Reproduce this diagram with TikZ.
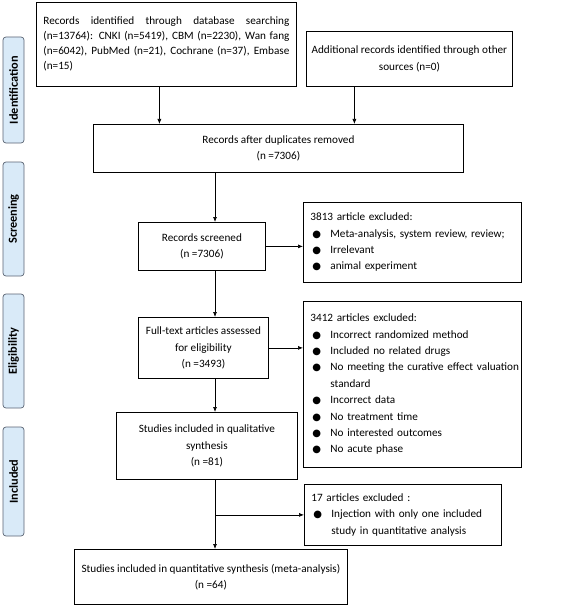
\documentclass[tikz,border=0pt]{standalone}
\usepackage{fontspec}
\setmainfont{Carlito}
\newfontfamily\symfont{DejaVu Sans}
\usetikzlibrary{arrows.meta}
\definecolor{sideblue}{RGB}{217,234,248}
\definecolor{sideline}{RGB}{90,100,115}
\newcommand{\itm}{\hspace*{2pt}\makebox[18pt][l]{\symfont\fontsize{10}{10}\selectfont ●}}
\newcommand{\cnt}{\hspace*{20pt}}
\tikzset{
  /tikz/.cd,
  box/.style={draw,line width=0.8pt,inner sep=0pt,anchor=north west,align=center,
    font=\fontsize{11.2}{16.4}\selectfont},
  listbox/.style={box,inner xsep=7pt,align=left},
  arr/.style={-{Latex[length=5pt,width=4pt]},line width=0.7pt}
}

\begin{document}
\begin{tikzpicture}[x=1pt,y=-1pt,
                    side/.style={draw=sideline,fill=sideblue,rounded corners=3pt,line width=0.7pt,
                      rotate=90,minimum height=21pt,inner sep=0pt,font=\bfseries\fontsize{12.3}{14}\selectfont}]
      \useasboundingbox (0,0) rectangle (567,607);

      \node[side,minimum width=106pt] (identification) at (13.5,90) {Identification};
      \node[side,minimum width=114pt] (screening) at (13.5,219) {Screening};
      \node[side,minimum width=114pt] (eligibility) at (13.5,351) {Eligibility};
      \node[side,minimum width=109pt] (included) at (13.5,481.5) {Included};

      \node[box,align=justify,minimum width=260pt,minimum height=84pt,text width=246pt,inner xsep=7pt,
            font=\fontsize{11.2}{15}\selectfont] (records) at (36,2)
        {Records identified through database searching\linebreak (n=13764): CNKI (n=5419), CBM (n=2230), Wan fang\linebreak (n=6042), PubMed (n=21), Cochrane (n=37), Embase\linebreak (n=15)\vphantom{p}\par\vspace{4pt}};
      \node[box,minimum width=206pt,minimum height=55pt] (other) at (306,31)
        {Additional records identified through other\\sources (n=0)};
      \node[box,minimum width=370pt,minimum height=48pt] (dup) at (93,124)
        {Records after duplicates removed\\(n =7306)};
      \node[box,minimum width=127pt,minimum height=48pt] (screened) at (138,222)
        {Records screened\\(n =7306)};
      \node[listbox,minimum width=218pt,minimum height=80pt,text width=204pt] (exclscr) at (303,202)
        {3813 article excluded:\\\itm Meta-analysis, system review, review;\\\itm Irrelevant\\\itm animal experiment};
      \node[box,minimum width=130pt,minimum height=61pt] (fulltext) at (138,317)
        {Full-text articles assessed\\for eligibility\\(n =3493)};
      \node[listbox,minimum width=218pt,minimum height=166pt,text width=204pt] (exclfull) at (303,301)
        {3412 articles excluded:\\\itm Incorrect randomized method\\\itm Included no related drugs\\\mbox{\itm No meeting the curative effect valuation}\\\cnt standard\\\itm Incorrect data\\\itm No treatment time\\\itm No interested outcomes\\\itm No acute phase};
      \node[box,minimum width=181pt,minimum height=67pt] (qual) at (116,412)
        {Studies included in qualitative\\synthesis\\(n =81)};
      \node[listbox,minimum width=197pt,minimum height=61pt,text width=183pt] (exclqual) at (304,484)
        {17 articles excluded :\\\itm Injection with only one included\\\cnt study in quantitative analysis};
      \node[box,minimum width=273pt,minimum height=55pt] (quant) at (74,549)
        {Studies included in quantitative synthesis (meta-analysis)\\(n =64)};

      \coordinate (trunk) at (215,0);

      \draw[arr] ([xshift=-7pt]records.south) -- ([xshift=-7pt]records.south |- dup.north);
      \draw[arr] ([xshift=-55pt]other.south) -- ([xshift=-55pt]other.south |- dup.north);
      \draw[arr] (dup.south -| trunk) -- (screened.north -| trunk);
      \draw[arr] (screened.east) -- (screened.east -| exclscr.west);
      \draw[arr] (screened.south -| trunk) -- (fulltext.north -| trunk);
      \draw[arr] (fulltext.east) -- (fulltext.east -| exclfull.west);
      \draw[arr] (fulltext.south -| trunk) -- (qual.north -| trunk);
      \draw[arr] (qual.south -| trunk) -- (quant.north -| trunk);
      \draw[arr] (exclqual.west -| trunk) -- (exclqual.west);
    \end{tikzpicture}
\end{document}
